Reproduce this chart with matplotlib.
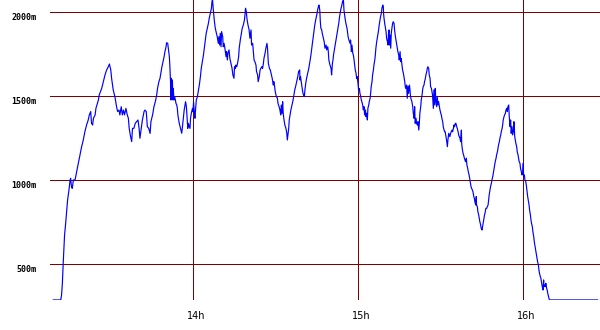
import matplotlib
matplotlib.use("Agg")
import matplotlib.pyplot as plt
from matplotlib.transforms import ScaledTranslation

# time in minutes after midnight, altitude in metres
minutes = [
    789.1, 791.8, 792.1, 792.4, 792.7, 793.0, 793.2, 793.6, 794.0, 794.3, 794.8, 795.2, 795.4, 795.7, 796.0,
    796.4, 797.0, 797.6, 798.2, 798.8, 799.4, 800.0, 800.6, 801.2, 801.8, 802.2, 802.7, 803.0, 803.4, 803.7,
    804.3, 804.6, 805.5, 805.8, 806.7, 807.3, 807.9, 808.5, 809.1, 809.5, 810.0, 810.3, 810.9, 811.5, 812.1,
    812.5, 813.0, 813.3, 813.8, 814.2, 814.6, 815.0, 815.5, 816.0, 816.4, 816.7, 817.2, 817.6, 817.9, 818.4,
    818.9, 819.4, 819.9, 820.3, 820.6, 821.0, 821.5, 822.1, 822.4, 822.9, 823.3, 823.8, 824.3,
    824.6, 825.2, 825.7, 826.2, 826.7, 827.0, 827.5, 827.9, 828.3, 828.6, 829.0, 829.4, 829.7, 830.1, 830.3,
    830.7, 831.0, 831.3, 831.5, 831.8, 831.9, 832.0, 832.3, 832.4, 832.6, 832.7, 833.0, 833.2, 833.5, 833.7,
    834.0, 834.2, 834.4, 834.7, 834.9, 835.2, 835.5, 835.8, 836.0, 836.3, 836.5, 836.7, 837.0, 837.2, 837.5,
    837.7, 838.0, 838.2, 838.6, 838.8, 839.0, 839.3, 839.7, 839.9, 840.1, 840.4, 840.6, 840.9, 841.1, 841.5,
    841.8, 842.2, 842.6, 842.9, 843.3, 843.7, 844.0, 844.4, 844.7, 845.1, 845.5, 845.8, 846.2, 846.6, 846.8,
    847.0, 847.3, 847.7, 848.0, 848.4, 848.7, 849.1, 849.3, 849.6, 849.8, 850.1, 850.3, 850.7, 850.9, 851.2,
    851.5, 851.9, 852.1, 852.4, 852.6, 853.0, 853.3, 853.7, 854.1, 854.4, 854.8, 855.0, 855.3, 855.5, 855.8,
    856.1, 856.5, 856.7, 857.1, 857.5, 857.8, 858.2, 858.6, 858.8, 859.0, 859.3, 859.5, 859.9, 860.3,
    860.6, 861.0, 861.2, 861.6, 861.8, 862.1, 862.4, 862.8, 863.0, 863.4, 863.6, 864.0, 864.3, 864.6, 864.9,
    865.2, 865.5, 865.7, 866.1, 866.4, 866.8, 867.0, 867.3, 867.7, 868.0, 868.4, 868.7, 869.1, 869.3, 869.6,
    869.8, 870.2, 870.6, 870.8, 871.2, 871.5, 871.8, 872.0, 872.3, 872.5, 872.7, 873.0, 873.3, 873.7, 874.0,
    874.2, 874.4, 874.7, 874.9, 875.2, 875.5, 875.9, 876.3, 876.6, 876.9, 877.2, 877.6, 878.0, 878.3, 878.7,
    878.8, 879.0, 879.4, 879.6, 879.9, 880.1, 880.4, 880.6, 880.9, 881.2, 881.6, 882.0, 882.3, 882.7, 883.0,
    883.4, 883.8, 884.1, 884.5, 884.9, 885.2, 885.5, 885.7, 886.0, 886.2, 886.4, 886.7, 886.9, 887.3, 887.6,
    887.9, 888.3, 888.5, 888.9, 889.1, 889.3, 889.7, 890.1, 890.3, 890.6, 890.8, 891.0, 891.4, 891.8, 892.1,
    892.5, 892.9, 893.2, 893.6, 894.0, 894.3, 894.6, 894.8, 895.2, 895.5, 895.9, 896.3, 896.6,
    897.0, 897.2, 897.5, 897.7, 898.0, 898.2, 898.4, 898.7, 898.9, 899.2, 899.4, 899.6, 899.9, 900.1, 900.4,
    900.6, 900.9, 901.1, 901.3, 901.6, 901.8, 902.1, 902.3, 902.6, 902.8, 903.0, 903.3, 903.5, 903.8, 904.0,
    904.3, 904.5, 904.7, 905.0, 905.2, 905.5, 905.7, 906.0, 906.2, 906.4, 906.7, 906.9, 907.2, 907.4, 907.6,
    907.9, 908.1, 908.4, 908.6, 908.9, 909.1, 909.2, 909.3, 909.6, 909.8, 910.1, 910.3, 910.6, 910.8, 911.0,
    911.2, 911.3, 911.5, 911.8, 912.0, 912.3, 912.5, 912.7, 913.0, 913.2, 913.5, 913.7, 914.0, 914.2, 914.4,
    914.7, 914.9, 915.2, 915.4, 915.6, 915.9, 916.1, 916.4, 916.6, 916.9, 917.1, 917.3, 917.6, 917.8, 918.1,
    918.3, 918.6, 918.8, 919.0, 919.3, 919.5, 919.8, 920.0, 920.3, 920.5, 920.7, 921.0, 921.2, 921.5, 921.7,
    922.0, 922.2, 922.4, 922.7, 922.9, 923.2, 923.4, 923.6, 923.9, 924.1, 924.4, 924.6, 924.9, 925.1, 925.3,
    925.6, 925.8, 926.1, 926.3, 926.6, 926.8, 927.0, 927.3, 927.5, 927.8, 928.0, 928.2, 928.5, 928.7, 929.0,
    929.2, 929.5, 929.7, 930.0, 930.2, 930.4, 930.7, 930.9, 931.2, 931.4, 931.6, 931.9, 932.1, 932.4, 932.6,
    932.9,
    933.3, 933.6, 933.8, 934.1, 934.3, 934.6, 934.8, 935.0, 935.3, 935.5, 935.8, 936.0, 936.3, 936.5, 936.7,
    937.0, 937.2, 937.5, 937.6, 937.8, 938.1, 938.3, 938.6, 938.8, 939.0, 939.3, 939.5, 939.8, 940.0, 940.3,
    940.5, 940.7, 941.0, 941.2, 941.5, 941.7, 942.0, 942.2, 942.4, 942.7, 942.9, 943.0, 943.3, 943.5, 943.8,
    944.0, 944.2, 944.5, 944.7, 945.0, 945.2, 945.5, 945.7, 945.9, 946.2, 946.4, 946.7, 946.9, 947.2, 947.4,
    947.6, 947.9, 948.1, 948.4, 948.6, 948.9, 949.1, 949.3, 949.6, 949.8, 950.1, 950.3, 950.6, 950.8, 951.0,
    951.3, 951.5, 951.8, 952.0, 952.3, 952.5, 952.7, 953.0, 953.2, 953.5, 953.7, 954.0, 954.2, 954.4, 954.7,
    954.9, 955.2, 955.4, 955.6, 955.9, 956.1, 956.4, 956.6, 956.9, 957.1, 957.3, 957.6, 957.8, 958.1, 958.3,
    958.5, 958.8, 959.0, 959.3, 959.5, 959.8, 960.0, 960.1, 960.4, 960.6, 960.9, 961.1, 961.3, 961.6, 961.8,
    962.1, 962.3, 962.6, 962.8, 963.0, 963.3, 963.5, 963.8, 964.0, 964.2, 964.5, 964.7, 965.0, 965.2, 965.5,
    965.7, 965.9, 966.2, 966.4, 966.7, 966.9, 967.2, 967.4, 967.5, 967.8, 968.0, 968.2, 968.5, 968.7, 968.9,
    969.2, 969.5, 987.0,
]

altitude = [
    288, 288, 317, 387, 506, 605, 675, 744, 823, 883, 942, 1002, 1012, 962, 952,
    1002, 1002, 1051, 1101, 1151, 1200, 1240, 1290, 1329, 1359, 1389, 1409, 1339, 1329, 1369,
    1389, 1428, 1478, 1508, 1547, 1587, 1627, 1657, 1676, 1692, 1657, 1607, 1537, 1498, 1438,
    1409, 1418, 1389, 1438, 1389, 1418, 1389, 1428, 1389, 1369, 1309, 1260, 1230, 1309, 1309,
    1339, 1349, 1359, 1309, 1250, 1299, 1359, 1409, 1418, 1409, 1319, 1309, 1279,
    1349, 1389, 1438, 1468, 1508, 1547, 1587, 1607, 1647, 1676, 1706, 1736, 1766, 1795, 1819,
    1815, 1776, 1736, 1676, 1557, 1478, 1607, 1498, 1597, 1478, 1547, 1478, 1498, 1478, 1458,
    1448, 1428, 1389, 1359, 1339, 1319, 1299, 1280, 1309, 1359, 1389, 1419, 1448, 1468, 1438,
    1389, 1309, 1339, 1319, 1309, 1369, 1399, 1428, 1409, 1468, 1399, 1369, 1438, 1478, 1498,
    1528, 1567, 1617, 1666, 1706, 1746, 1786, 1835, 1875, 1905, 1934, 1964, 1994, 2024, 2063,
    2075, 2013, 1944, 1905, 1875, 1855, 1815, 1855, 1805, 1875, 1795, 1885, 1855, 1795, 1815,
    1786, 1736, 1766, 1716, 1756, 1776, 1726, 1696, 1666, 1627, 1607, 1676, 1666, 1686, 1676,
    1696, 1736, 1786, 1835, 1875, 1905, 1924, 1954, 1984, 2024, 2004, 1964, 1924, 1895,
    1845, 1895, 1805, 1815, 1776, 1716, 1706, 1686, 1647, 1627, 1587, 1617, 1657, 1666, 1676,
    1666, 1696, 1726, 1756, 1786, 1815, 1786, 1696, 1666, 1657, 1627, 1607, 1567, 1587, 1557,
    1528, 1498, 1488, 1458, 1438, 1419, 1389, 1448, 1399, 1468, 1399, 1359, 1329, 1309, 1280,
    1240, 1270, 1309, 1359, 1389, 1419, 1448, 1478, 1508, 1538, 1557, 1587, 1617, 1647, 1657,
    1597, 1617, 1567, 1547, 1518, 1508, 1498, 1538, 1577, 1607, 1637, 1666, 1696, 1736, 1776,
    1825, 1875, 1915, 1954, 1984, 2013, 2033, 2043, 2013, 1944, 1905, 1895, 1875, 1845, 1825,
    1786, 1805, 1776, 1795, 1766, 1716, 1686, 1666, 1627, 1696, 1716, 1746, 1786, 1825, 1855,
    1895, 1934, 1974, 2013, 2043, 2063, 2073, 2013, 1964, 1934, 1905, 1855, 1835,
    1815, 1835, 1766, 1805, 1756, 1746, 1726, 1686, 1657, 1637, 1607, 1617, 1577, 1538, 1547,
    1518, 1498, 1478, 1468, 1448, 1419, 1438, 1389, 1419, 1379, 1399, 1359, 1428, 1448, 1468,
    1488, 1518, 1557, 1587, 1627, 1657, 1686, 1716, 1746, 1786, 1825, 1845, 1875, 1895, 1924,
    1954, 1974, 1994, 2024, 2043, 2034, 1994, 1974, 1934, 1914, 1885, 1845, 1825, 1805, 1875,
    1895, 1805, 1865, 1786, 1875, 1914, 1934, 1944, 1934, 1895, 1855, 1835, 1805, 1786, 1766,
    1746, 1716, 1766, 1706, 1726, 1686, 1657, 1637, 1617, 1587, 1557, 1547, 1567, 1488, 1557,
    1518, 1567, 1538, 1498, 1478, 1468, 1438, 1399, 1369, 1438, 1339, 1369, 1339, 1329, 1349,
    1299, 1339, 1399, 1438, 1478, 1508, 1538, 1557, 1567, 1587, 1607, 1627, 1647, 1666, 1676,
    1666, 1627, 1607, 1557, 1547, 1528, 1508, 1428, 1538, 1448, 1547, 1478, 1438, 1498, 1448,
    1468, 1438, 1419, 1399, 1389, 1369, 1349, 1319, 1299, 1289, 1289, 1260, 1240, 1200, 1240,
    1280,
    1260, 1280, 1289, 1299, 1289, 1309, 1329, 1319, 1339, 1339, 1319, 1309, 1289, 1270, 1260,
    1250, 1230, 1299, 1220, 1190, 1161, 1151, 1131, 1121, 1111, 1131, 1091, 1071, 1051, 1032,
    1012, 992, 962, 952, 942, 932, 903, 893, 873, 853, 903, 853, 843, 813, 793,
    774, 754, 734, 714, 704, 724, 754, 774, 793, 813, 833, 833, 843, 853, 883,
    913, 942, 962, 982, 1002, 1022, 1041, 1061, 1091, 1111, 1131, 1151, 1170, 1190, 1210,
    1230, 1250, 1270, 1289, 1309, 1329, 1359, 1379, 1389, 1399, 1418, 1428, 1409, 1438, 1448,
    1379, 1319, 1359, 1280, 1319, 1270, 1289, 1349, 1260, 1240, 1220, 1200, 1170, 1151, 1131,
    1111, 1101, 1071, 1051, 1032, 1041, 1101, 1022, 1032, 1002, 992, 972, 942, 903, 883,
    853, 823, 793, 764, 744, 724, 694, 664, 635, 615, 585, 565, 536, 516, 496,
    466, 446, 427, 417, 387, 367, 347, 407, 367, 377, 367, 387, 357, 347, 327,
    307, 288, 288,
]

hour_ticks = [840, 900, 960]
hour_labels = ["14h", "15h", "16h"]
alt_ticks = [500, 1000, 1500, 2000]
alt_labels = ["500m", "1000m", "1500m", "2000m"]

fig = plt.figure(figsize=(6.0, 3.3), dpi=100)
ax = fig.add_axes([50 / 600, 30 / 330, 550 / 600, 300 / 330])
ax.set_facecolor("white")

grid_color = "#800000"
for v in alt_ticks:
    ax.axhline(v, color=grid_color, lw=0.72, zorder=1)
for v in hour_ticks:
    ax.axvline(v, color=grid_color, lw=0.72, zorder=1)

ax.plot(minutes, altitude, color="#0000ff", lw=0.85, zorder=3)

ax.set_xlim(787.9, 987.9)
ax.set_ylim(287.6, 2073)

for s in ax.spines.values():
    s.set_visible(False)

ax.set_xticks(hour_ticks)
ax.set_xticklabels(hour_labels, fontsize=7, family="DejaVu Sans")
ax.set_yticks(alt_ticks)
ax.set_yticklabels(alt_labels, fontsize=6, family="DejaVu Sans Mono", fontweight="bold")
ax.tick_params(axis="both", length=0)
ax.tick_params(axis="x", pad=8)
ax.tick_params(axis="y", pad=10)

dx = ScaledTranslation(3 / 100, 0, fig.dpi_scale_trans)
for lbl in ax.get_xticklabels():
    lbl.set_transform(lbl.get_transform() + dx)
dy = ScaledTranslation(0, -4 / 100, fig.dpi_scale_trans)
for lbl in ax.get_yticklabels():
    lbl.set_transform(lbl.get_transform() + dy)

fig.savefig("out.png", dpi=100, facecolor="white")
